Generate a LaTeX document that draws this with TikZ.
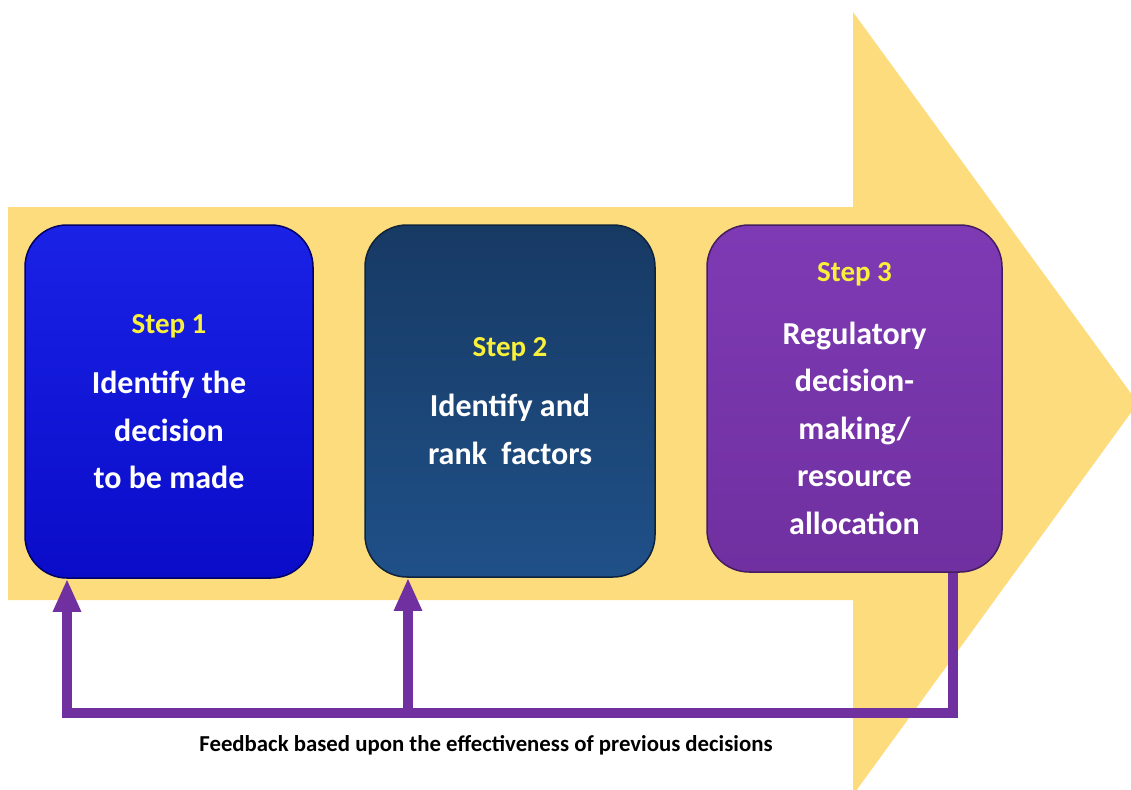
\documentclass[tikz,border=0pt]{standalone}
\usepackage{fontspec}
\setmainfont{Carlito}
\usetikzlibrary{arrows.meta,calc}
\definecolor{arrowyellow}{HTML}{FDDC7E}
\definecolor{blueA}{HTML}{1A22E6}
\definecolor{blueB}{HTML}{0A0CC8}
\definecolor{tealA}{HTML}{173A64}
\definecolor{tealB}{HTML}{1F5088}
\definecolor{purpA}{HTML}{7E3AB4}
\definecolor{purpB}{HTML}{7030A0}
\definecolor{fbpurple}{HTML}{7030A0}
\definecolor{stepyellow}{HTML}{F8F03A}
\tikzset{
  stepbox/.style={rounded corners=42pt, minimum width=290pt, inner sep=0pt,
    text=white, align=center, font=\bfseries\fontsize{32}{47.5}\selectfont},
  steplabel/.style={text=stepyellow},
  fb/.style={draw=fbpurple, line width=10pt, line join=miter},
  fbarrow/.style={-{Triangle[width=26pt,length=33pt]}}
}
\begin{document}
\begin{tikzpicture}[x=1pt,y=-1pt]
\useasboundingbox (0,0) rectangle (1131,789);
\fill[white] (0,0) rectangle (1131,789);
\begin{scope}
\clip (0,0) rectangle (1131,789);
\fill[arrowyellow] (8,207) -- (853,207) -- (853,12) -- (1138,403) -- (853,795) -- (853,600) -- (8,600) -- cycle;
\end{scope}
% boxes
\node[stepbox, minimum width=288pt, minimum height=353pt, top color=blueA, bottom color=blueB, draw=blue!40!black, line width=1.5pt] (b1) at (169,401.5)
  {{\color{stepyellow}\fontsize{29}{35}\selectfont Step 1}\\[13pt]Identify the\\decision\\to be made};
\node[stepbox, minimum width=290pt, minimum height=352pt, top color=tealA, bottom color=tealB, draw=tealA!60!black, line width=1.5pt] (b2) at (510,401)
  {{\color{stepyellow}\fontsize{29}{35}\selectfont Step 2}\\[13pt]Identify and\\rank\ \ factors};
\node[stepbox, minimum width=295pt, minimum height=347pt, top color=purpA, bottom color=purpB, draw=purpB!60!black, line width=1.5pt] (b3) at (854.5,398.5)
  {{\color{stepyellow}\fontsize{29}{35}\selectfont Step 3}\\[15pt]Regulatory\\decision-\\making/\\resource\\allocation};
% feedback connectors
\coordinate (f1) at (67,713);
\coordinate (f2) at (408,713);
\coordinate (f3) at (953,713);
\draw[fb, fbarrow] (b3.south -| f3) -- (f3) -- (f1) -- (b1.south -| f1);
\draw[fb, fbarrow] (f2) -- (b2.south -| f2);
\node[font=\bfseries\fontsize{22.8}{27}\selectfont, text=black] (fbtext) at (486,745) {Feedback based upon the effectiveness of previous decisions};
\end{tikzpicture}
\end{document}
